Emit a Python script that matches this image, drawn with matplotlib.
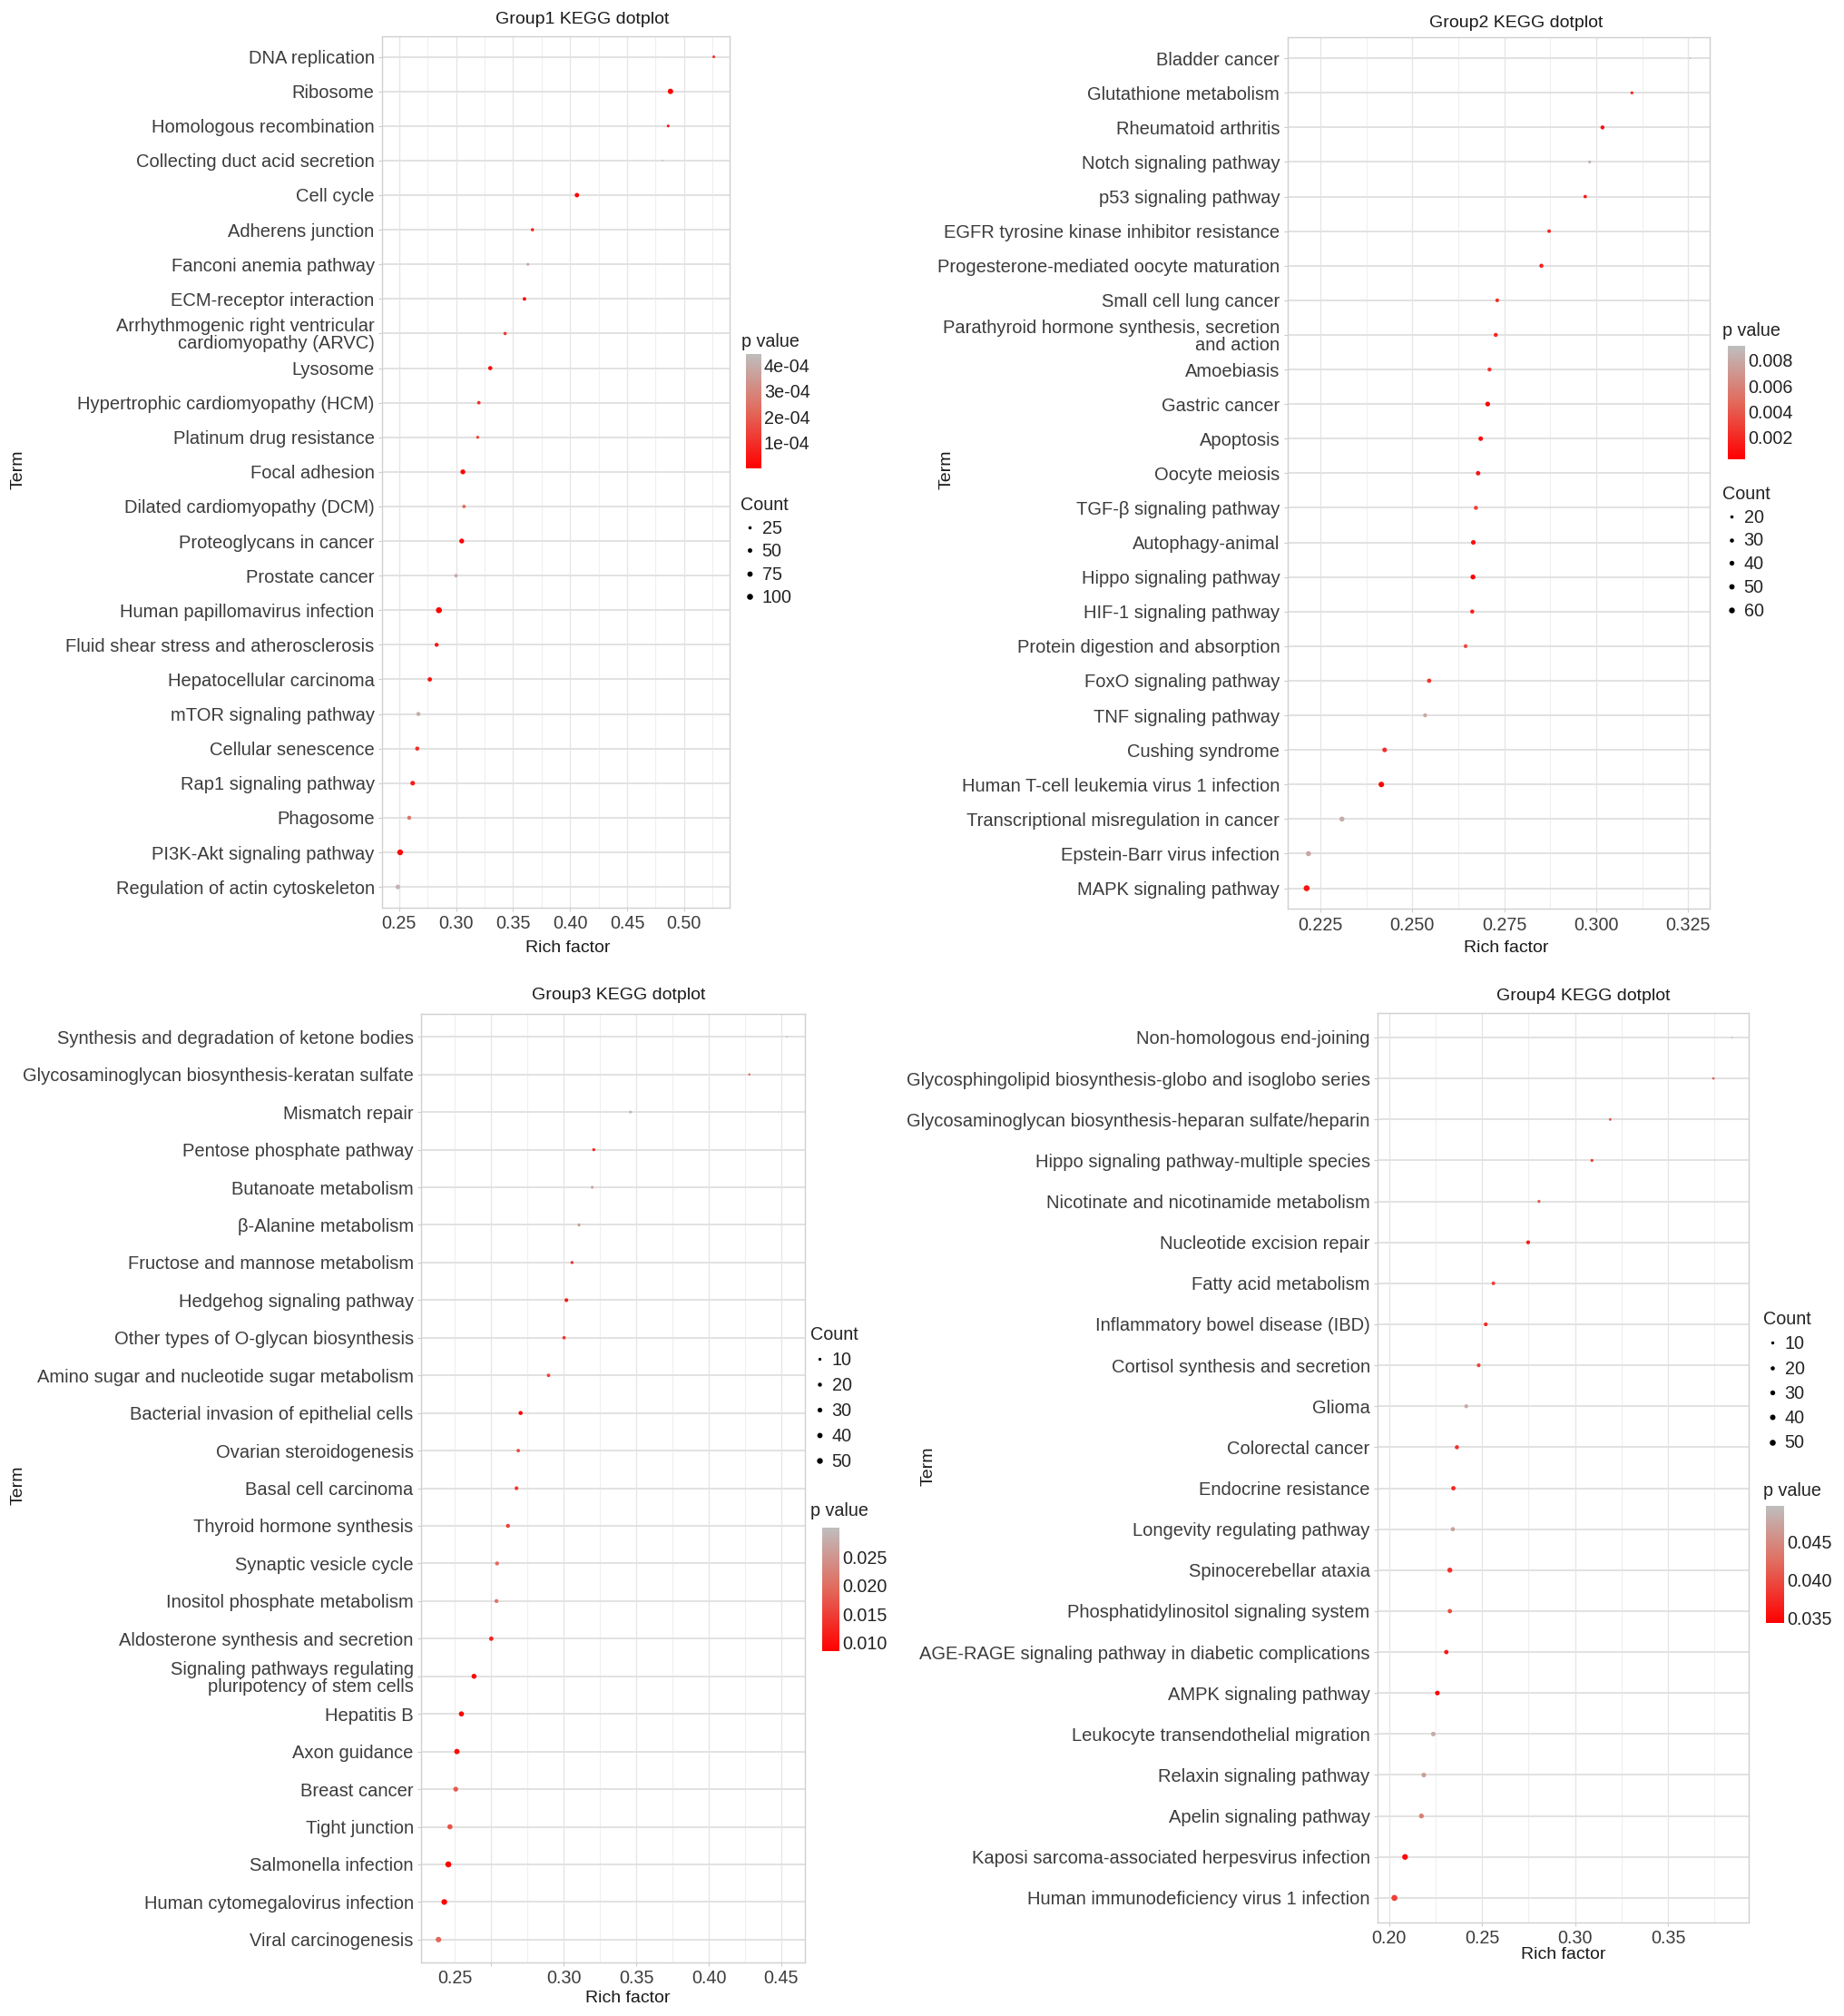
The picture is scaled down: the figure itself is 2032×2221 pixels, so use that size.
import matplotlib
matplotlib.use("Agg")
import matplotlib.pyplot as plt
import numpy as np
from matplotlib.colors import LinearSegmentedColormap, Normalize
from matplotlib.lines import Line2D
from matplotlib.ticker import MultipleLocator
from matplotlib.transforms import ScaledTranslation

plt.rcParams['font.family'] = ['Liberation Sans', 'DejaVu Sans']

# ---------------- data (terms listed top to bottom) ----------------
g1_terms = ["DNA replication", "Ribosome", "Homologous recombination",
            "Collecting duct acid secretion", "Cell cycle", "Adherens junction",
            "Fanconi anemia pathway", "ECM-receptor interaction",
            "Arrhythmogenic right ventricular\ncardiomyopathy (ARVC)", "Lysosome",
            "Hypertrophic cardiomyopathy (HCM)", "Platinum drug resistance",
            "Focal adhesion", "Dilated cardiomyopathy (DCM)", "Proteoglycans in cancer",
            "Prostate cancer", "Human papillomavirus infection",
            "Fluid shear stress and atherosclerosis", "Hepatocellular carcinoma",
            "mTOR signaling pathway", "Cellular senescence", "Rap1 signaling pathway",
            "Phagosome", "PI3K-Akt signaling pathway", "Regulation of actin cytoskeleton"]
g1_rich = [0.526, 0.488, 0.486, 0.481, 0.406, 0.367, 0.363, 0.360, 0.343, 0.330,
           0.320, 0.319, 0.306, 0.307, 0.305, 0.300, 0.285, 0.283, 0.277, 0.267,
           0.266, 0.262, 0.259, 0.251, 0.249]
g1_count = [19, 77, 20, 13, 50, 26, 20, 31, 26, 42, 29, 23, 61, 29, 62, 29, 101, 39,
            47, 42, 42, 55, 40, 92, 55]
g1_p = [1.0e-4, 1e-7, 5e-5, 4.43e-4, 2e-6, 8e-5, 3.8e-4, 3e-5, 1.2e-4, 1e-5,
        1e-4, 1.5e-4, 5e-6, 2.2e-4, 1e-5, 3.9e-4, 5e-6, 5e-5, 3e-5, 4.0e-4,
        1e-4, 6e-5, 2.5e-4, 2e-5, 4.2e-4]

g2_terms = ["Bladder cancer", "Glutathione metabolism", "Rheumatoid arthritis",
            "Notch signaling pathway", "p53 signaling pathway",
            "EGFR tyrosine kinase inhibitor resistance",
            "Progesterone-mediated oocyte maturation", "Small cell lung cancer",
            "Parathyroid hormone synthesis, secretion\nand action", "Amoebiasis",
            "Gastric cancer", "Apoptosis", "Oocyte meiosis", "TGF-β signaling pathway",
            "Autophagy-animal", "Hippo signaling pathway", "HIF-1 signaling pathway",
            "Protein digestion and absorption", "FoxO signaling pathway",
            "TNF signaling pathway", "Cushing syndrome",
            "Human T-cell leukemia virus 1 infection",
            "Transcriptional misregulation in cancer", "Epstein-Barr virus infection",
            "MAPK signaling pathway"]
g2_rich = [0.3255, 0.3097, 0.3017, 0.2982, 0.2970, 0.2872, 0.2851, 0.2731, 0.2727,
           0.2710, 0.2705, 0.2686, 0.2679, 0.2673, 0.2666, 0.2665, 0.2663, 0.2645,
           0.2546, 0.2535, 0.2425, 0.2416, 0.2309, 0.2218, 0.2213]
g2_count = [13, 18, 28, 18, 22, 23, 29, 25, 29, 28, 40, 37, 35, 29, 38, 42, 29, 27,
            33, 28, 38, 54, 44, 45, 65]
g2_p = [0.0091, 0.0020, 0.0008, 0.0085, 0.0015, 0.0018, 0.0015, 0.0022, 0.0020,
        0.0025, 0.0005, 0.0008, 0.0012, 0.0030, 0.0009, 0.0004, 0.0015, 0.0035,
        0.0025, 0.0080, 0.0022, 0.0003, 0.0082, 0.0078, 0.0012]

g3_terms = ["Synthesis and degradation of ketone bodies",
            "Glycosaminoglycan biosynthesis-keratan sulfate", "Mismatch repair",
            "Pentose phosphate pathway", "Butanoate metabolism", "β-Alanine metabolism",
            "Fructose and mannose metabolism", "Hedgehog signaling pathway",
            "Other types of O-glycan biosynthesis",
            "Amino sugar and nucleotide sugar metabolism",
            "Bacterial invasion of epithelial cells", "Ovarian steroidogenesis",
            "Basal cell carcinoma", "Thyroid hormone synthesis", "Synaptic vesicle cycle",
            "Inositol phosphate metabolism", "Aldosterone synthesis and secretion",
            "Signaling pathways regulating\npluripotency of stem cells", "Hepatitis B",
            "Axon guidance", "Breast cancer", "Tight junction", "Salmonella infection",
            "Human cytomegalovirus infection", "Viral carcinogenesis"]
g3_rich = [0.454, 0.428, 0.346, 0.3207, 0.3196, 0.3105, 0.3057, 0.3018, 0.3002,
           0.2895, 0.2702, 0.2686, 0.2674, 0.2615, 0.2540, 0.2536, 0.2500, 0.2381,
           0.2294, 0.2263, 0.2255, 0.2215, 0.2204, 0.2176, 0.2136]
g3_count = [5, 6, 8, 10, 9, 10, 10, 17, 13, 14, 21, 14, 17, 20, 20, 19, 25, 34, 37,
            41, 33, 37, 55, 49, 44]
g3_p = [0.0302, 0.020, 0.028, 0.012, 0.027, 0.026, 0.013, 0.011, 0.014, 0.015,
        0.0085, 0.016, 0.014, 0.015, 0.020, 0.021, 0.012, 0.009, 0.009, 0.0095,
        0.018, 0.017, 0.0088, 0.009, 0.019]

g4_terms = ["Non-homologous end-joining",
            "Glycosphingolipid biosynthesis-globo and isoglobo series",
            "Glycosaminoglycan biosynthesis-heparan sulfate/heparin",
            "Hippo signaling pathway-multiple species",
            "Nicotinate and nicotinamide metabolism", "Nucleotide excision repair",
            "Fatty acid metabolism", "Inflammatory bowel disease (IBD)",
            "Cortisol synthesis and secretion", "Glioma", "Colorectal cancer",
            "Endocrine resistance", "Longevity regulating pathway",
            "Spinocerebellar ataxia", "Phosphatidylinositol signaling system",
            "AGE-RAGE signaling pathway in diabetic complications",
            "AMPK signaling pathway", "Leukocyte transendothelial migration",
            "Relaxin signaling pathway", "Apelin signaling pathway",
            "Kaposi sarcoma-associated herpesvirus infection",
            "Human immunodeficiency virus 1 infection"]
g4_rich = [0.3843, 0.3744, 0.3189, 0.3091, 0.2806, 0.2748, 0.2561, 0.2520, 0.2482,
           0.2415, 0.2365, 0.2346, 0.2343, 0.2327, 0.2327, 0.2308, 0.2260, 0.2238,
           0.2187, 0.2174, 0.2086, 0.2029]
g4_count = [5, 6, 8, 9, 10, 17, 15, 16, 16, 18, 20, 23, 21, 33, 23, 23, 27, 26, 28,
            30, 45, 51]
g4_p = [0.0498, 0.040, 0.041, 0.038, 0.041, 0.036, 0.039, 0.037, 0.039, 0.048,
        0.038, 0.037, 0.047, 0.038, 0.040, 0.036, 0.0343, 0.048, 0.047, 0.044,
        0.035, 0.039]

g1_pticks = [1e-4, 2e-4, 3e-4, 4e-4]
g1_plabels = ["1e-04", "2e-04", "3e-04", "4e-04"]
g2_pticks = [0.002, 0.004, 0.006, 0.008]
g2_plabels = ["0.002", "0.004", "0.006", "0.008"]
g3_pticks = [0.010, 0.015, 0.020, 0.025]
g3_plabels = ["0.010", "0.015", "0.020", "0.025"]
g4_pticks = [0.035, 0.040, 0.045]
g4_plabels = ["0.035", "0.040", "0.045"]

g1_breaks = [25, 50, 75, 100]
g2_breaks = [20, 30, 40, 50, 60]
g3_breaks = [10, 20, 30, 40, 50]
g4_breaks = [10, 20, 30, 40, 50]

# ---------------- figure ----------------
W, H = 2032, 2221
fig = plt.figure(figsize=(W / 100, H / 100), dpi=100)
cmap = LinearSegmentedColormap.from_list(
    "pval", [(0, "#FF0000"), (0.5, "#E2695B"), (1, "#BEBEBE")])

FS_Y = 14.5
FS_X = 14.2
TXT = "#3C3C3C"


def px_box(l, t, r, b):
    return [l / W, 1 - b / H, (r - l) / W, (b - t) / H]


def diam(c, cmin, cmax):
    # ggplot-like area scale, result in points
    d_px = 1.8 + 4.8 * np.sqrt((np.asarray(c, float) - cmin) / (cmax - cmin))
    return d_px * 72 / 100


def panel(terms, rich, count, pval, lay, xstep, xfmt, pticks, plabels, breaks, title):
    ax = fig.add_axes(px_box(*lay["ax"]))
    n = len(terms)
    y = np.arange(n, 0, -1)
    lo, hi = min(rich), max(rich)
    rng = hi - lo
    ax.set_xlim(lo - 0.05 * rng, hi + 0.05 * rng)
    ax.set_ylim(0.4, n + 0.6)
    ax.set_yticks(y)
    ax.set_yticklabels(terms)
    for lbl in ax.get_yticklabels():
        lbl.set_linespacing(1.0)
    ax.xaxis.set_major_locator(MultipleLocator(xstep))
    ax.xaxis.set_minor_locator(MultipleLocator(xstep / 2))
    ax.xaxis.set_major_formatter(lambda v, pos: xfmt.format(v))
    ax.set_axisbelow(True)
    ax.grid(which="major", axis="y", color="#E2E2E2", lw=1.4)
    ax.grid(which="major", axis="x", color="#E6E6E6", lw=1.0)
    ax.grid(which="minor", axis="x", color="#EFEFEF", lw=0.8)
    for sp in ax.spines.values():
        sp.set_color("#D0D0D0")
        sp.set_linewidth(1.0)
    ax.tick_params(which="major", length=3, width=0.8, color="#CCCCCC",
                   labelcolor=TXT, pad=3)
    ax.tick_params(axis="y", labelsize=FS_Y)
    ax.tick_params(axis="x", labelsize=FS_X)
    ax.tick_params(which="minor", length=0)

    cmin, cmax = min(count), max(count)
    sizes = diam(count, cmin, cmax) ** 2
    norm = Normalize(min(pval), max(pval))
    sc = ax.scatter(rich, y, s=sizes, c=pval, cmap=cmap, norm=norm,
                    linewidths=0, zorder=3)

    fig.text(lay["title"][0] / W, 1 - lay["title"][1] / H, title,
             ha="center", va="center", fontsize=14, color="#1A1A1A")
    ax.set_xlabel("Rich factor", fontsize=14, color="#1A1A1A")
    ax.xaxis.set_label_coords(lay["xlab"][0] / W, 1 - lay["xlab"][1] / H,
                              transform=fig.transFigure)
    ax.xaxis.label.set_va("center")
    fig.text(lay["term"][0] / W, 1 - lay["term"][1] / H, "Term", rotation=90,
             ha="center", va="center", fontsize=14, color="#1A1A1A")

    # colour bar
    cax = fig.add_axes(px_box(*lay["cbar"]))
    cb = fig.colorbar(sc, cax=cax)
    cb.outline.set_visible(False)
    cb.set_ticks(pticks)
    cb.set_ticklabels(plabels)
    cax.tick_params(length=0, labelsize=14.2, labelcolor="#222222", pad=2)
    fig.text(lay["ptitle"][0] / W, 1 - lay["ptitle"][1] / H, "p value",
             ha="left", va="center", fontsize=14.2, color="#222222")

    # size legend
    handles = [Line2D([], [], ls="none", marker="o", color="black",
                      markersize=diam(b, cmin, cmax), markeredgewidth=0)
               for b in breaks]
    leg = fig.legend(handles, [str(b) for b in breaks], title="Count",
                     loc="upper left",
                     bbox_to_anchor=(lay["count"][0] / W, 1 - lay["count"][1] / H),
                     frameon=False, fontsize=14.2, title_fontsize=14.2,
                     labelspacing=lay["lsp"], handlelength=1.0, handletextpad=0.2,
                     borderpad=0, borderaxespad=0, alignment="left")
    for t in leg.get_texts():
        t.set_color("#222222")
    leg.get_title().set_color("#222222")
    return ax


lay1 = dict(ax=(421, 39.7, 804, 1000), title=(642, 21), xlab=(626, 1045),
            term=(20, 517), cbar=(822, 390, 839, 516), ptitle=(817, 377),
            count=(816, 547), lsp=0.33)
lay2 = dict(ax=(1418.7, 41.3, 1883.5, 1001.4), title=(1671, 25), xlab=(1660, 1045),
            term=(1043, 517), cbar=(1904, 381.5, 1923, 505.5), ptitle=(1898, 365),
            count=(1898, 535), lsp=0.34)
lay3 = dict(ax=(464, 1117.4, 886.5, 2161.7), title=(682, 1096), xlab=(692, 2202),
            term=(20, 1636), cbar=(906, 1682.6, 925, 1819), ptitle=(893, 1665),
            count=(893, 1461), lsp=0.46)
lay4 = dict(ax=(1518, 1115.9, 1927, 2118), title=(1745, 1097), xlab=(1723, 2153),
            term=(1023, 1615), cbar=(1946, 1658.5, 1966, 1788), ptitle=(1943, 1642),
            count=(1943, 1444), lsp=0.42)

panel(g1_terms, g1_rich, g1_count, g1_p, lay1, 0.05, "{:.2f}",
      g1_pticks, g1_plabels, g1_breaks, "Group1 KEGG dotplot")
panel(g2_terms, g2_rich, g2_count, g2_p, lay2, 0.025, "{:.3f}",
      g2_pticks, g2_plabels, g2_breaks, "Group2 KEGG dotplot")
ax3 = panel(g3_terms, g3_rich, g3_count, g3_p, lay3, 0.05, "{:.2f}",
            g3_pticks, g3_plabels, g3_breaks, "Group3 KEGG dotplot")
panel(g4_terms, g4_rich, g4_count, g4_p, lay4, 0.05, "{:.2f}",
      g4_pticks, g4_plabels, g4_breaks, "Group4 KEGG dotplot")

# in the source figure the first Group3 tick label sits left of its tick
fig.canvas.draw()
for tk in ax3.xaxis.get_major_ticks():
    if abs(tk.get_loc() - 0.25) < 1e-6:
        lab = tk.label1
        lab.set_transform(lab.get_transform() +
                          ScaledTranslation(-0.40, 0, fig.dpi_scale_trans))

fig.savefig("out.png", dpi=100, facecolor="white")
